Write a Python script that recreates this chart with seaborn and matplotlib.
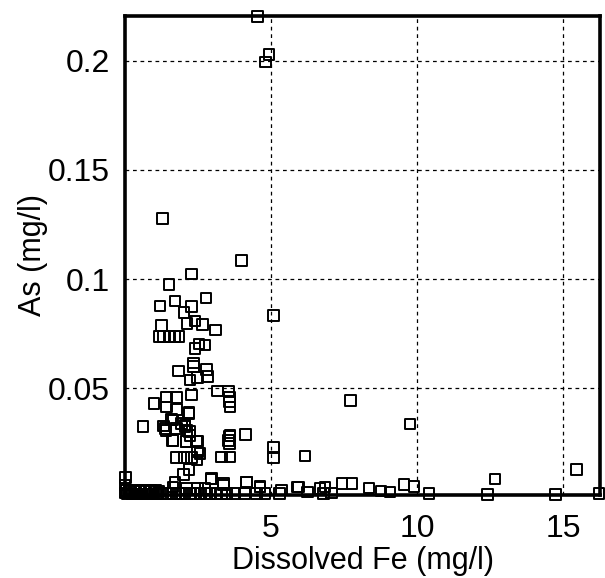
import matplotlib
matplotlib.use("Agg")
import matplotlib.pyplot as plt
import seaborn as sns
import pandas as pd

# Dissolved Fe (mg/l) and As (mg/l)
fe_top = [4.54, 4.93, 4.82]
as_top = [0.2205, 0.203, 0.1995]

fe_mid = [1.29, 4.00, 2.28, 1.51, 2.78, 1.71, 1.20, 2.28, 5.08, 2.02, 2.40, 2.13, 2.65,
          1.26, 3.09, 1.16, 1.31, 1.54, 1.71, 1.85, 2.40, 2.53, 2.74, 2.34, 1.83, 2.80,
          2.34, 2.82, 2.23, 2.48]
as_mid = [0.1278, 0.1084, 0.1024, 0.0976, 0.0914, 0.0900, 0.0876, 0.0873, 0.0832, 0.0846,
          0.0807, 0.0797, 0.0792, 0.0786, 0.0767, 0.0737, 0.0737, 0.0737, 0.0737, 0.0737,
          0.0682, 0.0702, 0.0697, 0.0616, 0.0579, 0.0586, 0.0598, 0.0552, 0.0537, 0.0550]

fe_low = [3.16, 3.54, 3.57, 3.57, 3.60, 2.28, 1.43, 1.77, 0.99, 1.43, 1.77, 2.19, 0.61,
          1.31, 1.60, 1.40, 1.77, 1.94, 2.05, 2.13, 2.23, 1.63, 2.09, 2.48, 3.57, 3.57,
          4.13, 2.48, 1.77, 2.02, 2.28, 2.57, 2.46, 3.31, 3.60, 5.08, 5.08, 6.16, 2.19,
          2.00, 1.71, 2.97, 3.37, 4.17, 4.62, 0.02, 7.73, 9.76, 12.67, 15.47, 2.05, 2.20,
          1.65, 1.37, 2.17, 2.45, 2.11, 1.65, 3.60, 3.54]
as_low = [0.0486, 0.0486, 0.0460, 0.0437, 0.0414, 0.0468, 0.0460, 0.0456, 0.0430, 0.0414,
          0.0402, 0.0387, 0.0323, 0.0326, 0.0356, 0.0307, 0.0315, 0.0338, 0.0323, 0.0307,
          0.0284, 0.0261, 0.0254, 0.0257, 0.0280, 0.0246, 0.0288, 0.0208, 0.0182, 0.0182,
          0.0182, 0.0200, 0.0170, 0.0185, 0.0185, 0.0228, 0.0182, 0.0188, 0.0127, 0.0104,
          0.0066, 0.0086, 0.0055, 0.0066, 0.0050, 0.0090, 0.0442, 0.0335, 0.0083, 0.0127,
          0.0330, 0.0300, 0.0353, 0.0315, 0.0384, 0.0254, 0.0254, 0.0260, 0.0284, 0.0260]

fe_base = [0.00, 0.00, 0.08, 0.16, 0.25, 0.33, 0.42, 0.50, 0.58, 0.67, 0.75, 0.83, 0.92,
           1.00, 1.08, 1.17, 0.05, 0.20, 0.38, 0.55, 0.72, 0.88, 1.05, 1.13, 1.30, 1.45,
           1.60, 1.64, 1.75, 1.90, 2.05, 2.11, 2.20, 2.35, 2.49, 2.60, 2.74, 2.80, 2.90,
           2.95, 3.10, 3.30, 3.37, 3.50, 3.77, 4.10, 4.17, 4.50, 4.62, 4.80, 5.30, 5.37,
           5.91, 5.94, 6.25, 6.68, 6.79, 6.85, 7.08, 7.44, 7.78, 8.36, 8.77, 9.08, 9.55,
           9.90, 10.41, 12.42, 14.75, 16.24]
as_base = [0.0055, 0.0020, 0.0015, 0.0025, 0.0015, 0.0025, 0.0015, 0.0025, 0.0015, 0.0025,
           0.0015, 0.0025, 0.0015, 0.0025, 0.0015, 0.0025, 0.0030, 0.0030, 0.0030, 0.0030,
           0.0030, 0.0030, 0.0030, 0.0018, 0.0018, 0.0018, 0.0018, 0.0047, 0.0018, 0.0018,
           0.0018, 0.0040, 0.0018, 0.0018, 0.0041, 0.0018, 0.0041, 0.0018, 0.0018, 0.0083,
           0.0018, 0.0018, 0.0063, 0.0018, 0.0018, 0.0018, 0.0070, 0.0018, 0.0047, 0.0018,
           0.0018, 0.0032, 0.0047, 0.0047, 0.0024, 0.0040, 0.0017, 0.0047, 0.0020, 0.0063,
           0.0063, 0.0043, 0.0028, 0.0024, 0.0058, 0.0050, 0.0017, 0.0012, 0.0012, 0.0017]

x_ticks = [5, 10, 15]
y_ticks = [0.05, 0.1, 0.15, 0.2]
y_tick_labels = ["0.05", "0.1", "0.15", "0.2"]

df = pd.DataFrame({
    "fe": fe_top + fe_mid + fe_low + fe_base,
    "as": as_top + as_mid + as_low + as_base,
})

sns.set_style("white")
plt.rcParams["font.family"] = ["Liberation Sans", "DejaVu Sans"]
plt.rcParams["text.color"] = "black"
plt.rcParams["axes.labelcolor"] = "black"

fig = plt.figure(figsize=(6.05, 5.78), dpi=100)
ax = fig.add_axes([125 / 605, 1 - 495 / 578, 475 / 605, 479 / 578])

sns.scatterplot(data=df, x="fe", y="as", ax=ax, marker="s", s=58,
                facecolors="none", edgecolor="black", linewidth=1.4,
                clip_on=False, zorder=3)

ax.set_xlim(0, 16.27)
ax.set_ylim(0.001, 0.2206)
ax.set_xticks(x_ticks)
ax.set_yticks(y_ticks)
ax.set_xticklabels([str(v) for v in x_ticks])
ax.set_yticklabels(y_tick_labels)

ax.grid(True, color="black", linestyle=(0, (3, 3)), linewidth=0.9)
ax.set_axisbelow(True)
for sp in ax.spines.values():
    sp.set_visible(True)
    sp.set_color("black")
    sp.set_linewidth(2.6)

ax.tick_params(axis="both", which="major", direction="out", colors="black",
               labelcolor="black", labelsize=23, width=2.6)
ax.tick_params(axis="y", length=10, pad=1)
ax.tick_params(axis="x", length=9, pad=5)

ax.set_xlabel("Dissolved Fe (mg/l)", fontsize=22, labelpad=1, color="black")
ax.set_ylabel("As (mg/l)", fontsize=22, labelpad=0, color="black")

fig.savefig("out.png", dpi=100)
